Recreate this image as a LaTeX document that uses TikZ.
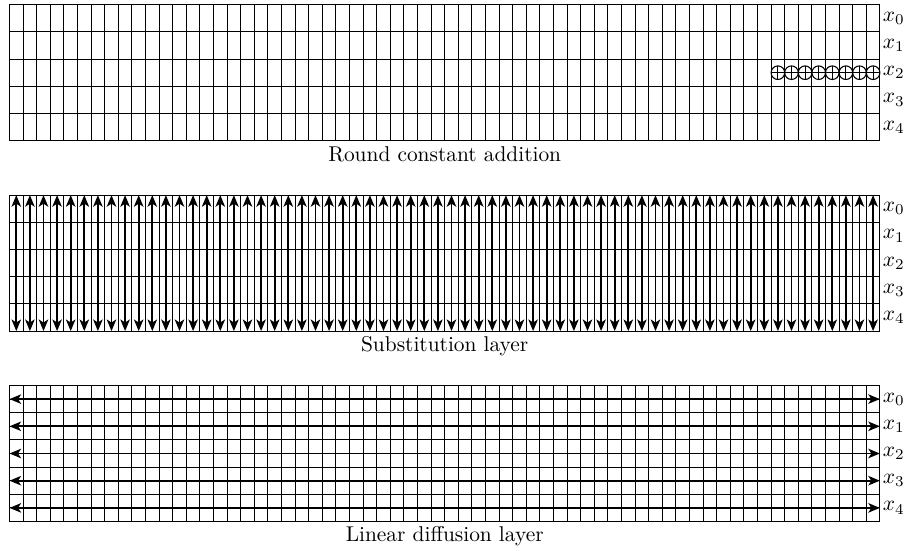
\documentclass[tikz,border=0pt]{standalone}
\usetikzlibrary{arrows.meta}
\begin{document}
\begin{tikzpicture}[x=0.4468cm,y=0.4468cm,
  gridline/.style={line width=0.4pt},
  dblarrow/.style={line width=0.9pt,{Stealth[length=5.4pt,width=4.4pt,inset=1.4pt]}-{Stealth[length=5.4pt,width=4.4pt,inset=1.4pt]}},
  rowlabel/.style={anchor=west,inner sep=1.2pt},
  caption/.style={anchor=base,inner sep=0pt}]
\useasboundingbox (-0.349,0.173) rectangle (33.107,-20.084);
% ---- Round constant addition ----
\draw[gridline] (0,-5) grid[xstep=0.5,ystep=1] (32,0);
\foreach \i in {56,...,63}{
  \draw[line width=0.5pt] ({\i*0.5+0.25},-2.5) circle (0.25);
  \draw[line width=0.5pt] ({\i*0.5},-2.5) -- ({\i*0.5+0.5},-2.5);
  \draw[line width=0.5pt] ({\i*0.5+0.25},-2.25) -- ({\i*0.5+0.25},-2.75);
}
\foreach \r in {0,...,4}{
  \node[rowlabel] (a\r) at (32,{-0.5-\r}) {$x_{\r}$};
}
\node[caption] (capA) at (16,-5.77) {Round constant addition};
% ---- Substitution layer ----
\draw[gridline] (0,-12) grid[xstep=0.5,ystep=1] (32,-7);
\foreach \i in {0,...,63}{
  \draw[dblarrow] ({\i*0.5+0.25},-7) -- ({\i*0.5+0.25},-12);
}
\foreach \r in {0,...,4}{
  \node[rowlabel] (b\r) at (32,{-7.5-\r}) {$x_{\r}$};
}
\node[caption] (capB) at (16,-12.74) {Substitution layer};
% ---- Linear diffusion layer ----
\draw[gridline] (0,-19) grid[xstep=0.5,ystep=0.5] (32,-14);
\foreach \r in {0,...,4}{
  \coordinate (l\r) at (0,{-14.5-\r});
  \coordinate (r\r) at (32,{-14.5-\r});
  \draw[dblarrow] (l\r) -- (r\r);
  \node[rowlabel] (c\r) at (r\r) {$x_{\r}$};
}
\node[caption] (capC) at (16,-19.72) {Linear diffusion layer};
\end{tikzpicture}
\end{document}
